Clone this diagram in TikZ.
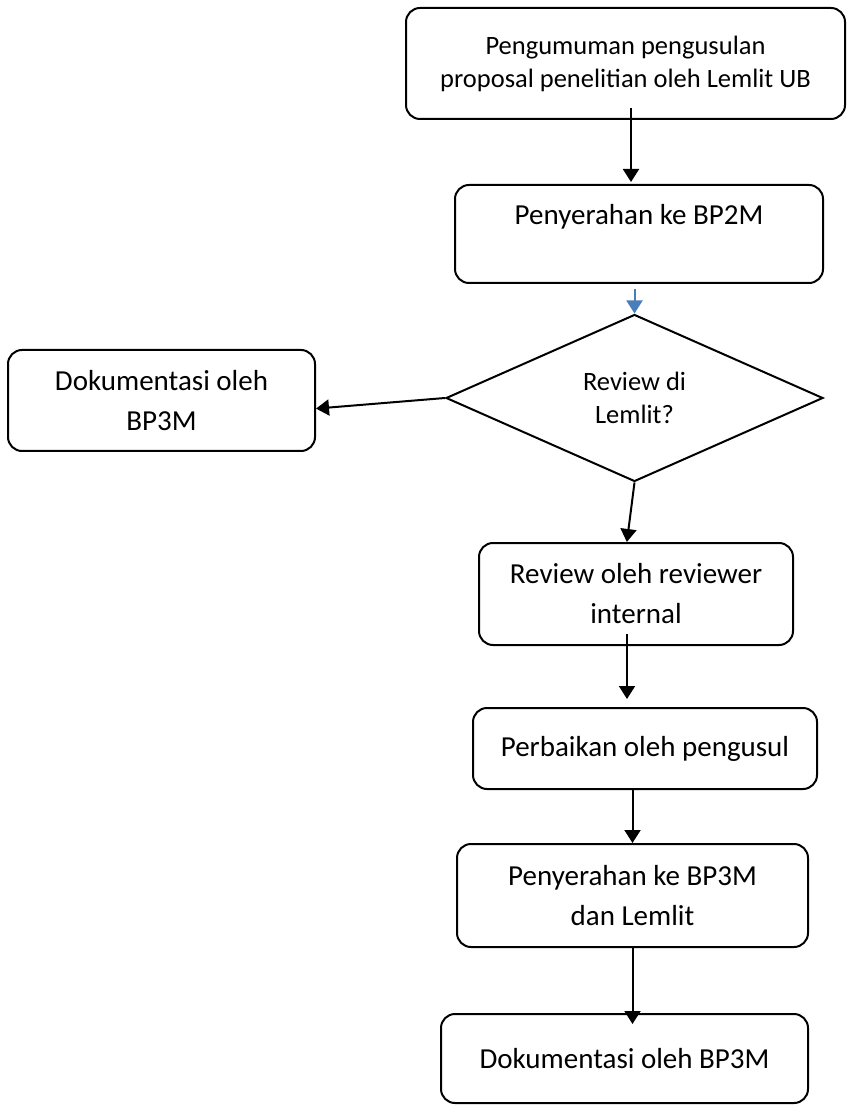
\documentclass[tikz,border=0pt]{standalone}
\usepackage{fontspec}
\setmainfont{Carlito}
\usetikzlibrary{shapes.geometric,arrows.meta}
\definecolor{linkblue}{HTML}{4A7EBB}
\newcommand{\smalltxt}{\fontsize{13.25}{16.5}\selectfont}
\newcommand{\bigtxt}{\fontsize{14.5}{20}\selectfont}

\begin{document}
\begin{tikzpicture}[x=0.5pt,y=-0.5pt,line width=1pt,>={Triangle[length=6.5pt,width=8pt]},
stepbox/.style={draw,rectangle,rounded corners=7pt,inner sep=2pt,align=center,font=\bigtxt},
choice/.style={draw,diamond,aspect=2.26,inner sep=0pt,minimum width=188.5pt,minimum height=83.5pt,align=center,font=\smalltxt}]
\useasboundingbox (0,0) rectangle (846,1111);
\draw (625.5,63.5) node[stepbox,font=\smalltxt,minimum width=219.5pt,minimum height=55.5pt] (info) {Pengumuman pengusulan\\proposal penelitian oleh Lemlit UB};
\draw (639,234) node[stepbox,minimum width=184pt,minimum height=49pt] (submit) {Penyerahan ke BP2M\\{}};
\draw (634.5,398) node[choice] (ask) {Review di\\Lemlit?};
\draw (161.5,400.5) node[stepbox,minimum width=153.5pt,minimum height=50.5pt] (docA) {Dokumentasi oleh\\BP3M};
\draw (636,594) node[stepbox,minimum width=157pt,minimum height=51pt] (review) {Review oleh reviewer\\internal};
\draw (645,748.5) node[stepbox,minimum width=172pt,minimum height=40.5pt] (revise) {Perbaikan oleh pengusul};
\draw (632.5,895.5) node[stepbox,minimum width=175.5pt,minimum height=51.5pt] (hand) {Penyerahan ke BP3M\\dan Lemlit};
\draw (624.5,1058.5) node[stepbox,minimum width=183.5pt,minimum height=44.5pt] (docB) {Dokumentasi oleh BP3M};
\draw[->] ([shift={(2.75pt,6pt)}]info.south) -- ([shift={(-4pt,1pt)}]submit.north);
\draw[->,linkblue] ([shift={(-2.25pt,-2.5pt)}]submit.south) -- (ask.north);
\draw[->] (ask.west) -- (docA.-3);
\draw[->] (ask.south) -- (review.100);
\draw[->] ([shift={(-4.5pt,6pt)}]review.south) -- ([shift={(-9pt,4pt)}]revise.north);
\draw[->] ([xshift=-6.25pt]revise.south) -- (hand.north);
\draw[->] (hand.south) -- ([shift={(4pt,-5.5pt)}]docB.north);
\end{tikzpicture}
\end{document}
